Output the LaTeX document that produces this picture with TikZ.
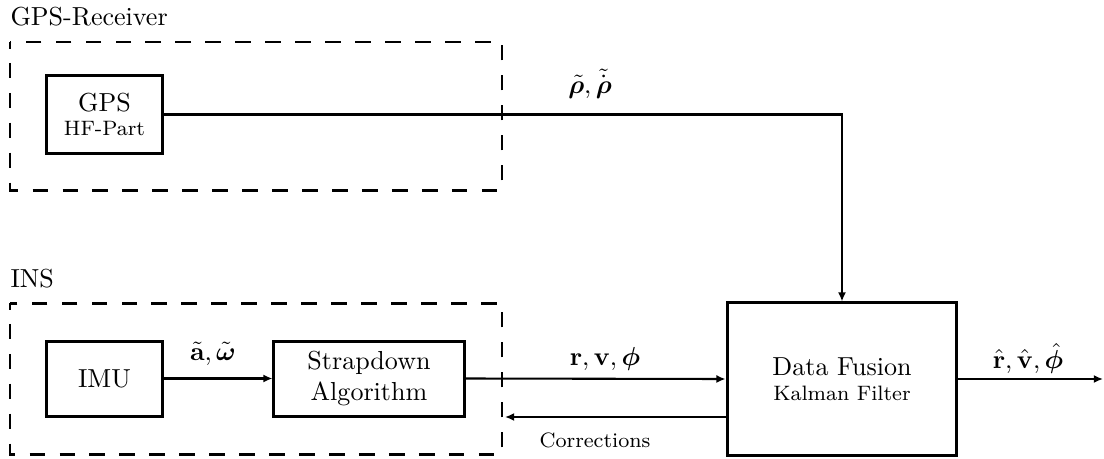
\documentclass[tikz,border=0pt]{standalone}
\usepackage{amsmath,amssymb,bm}
\usetikzlibrary{arrows.meta}
\begin{document}
\begin{tikzpicture}[x=0.384pt,y=-0.384pt,
  blockbox/.style={draw,line width=1.15pt,minimum width=#1,inner sep=0pt,align=center},
  groupbox/.style={draw,line width=1.15pt,dash pattern=on 6pt off 5.5pt,dash phase=3.5pt},
  conn/.style={line width=0.8pt},
  arr/.style={conn,-{Latex[length=3.5pt,width=3.1pt]}},
  grouplabel/.style={anchor=base west,inner sep=0pt},
  siglabel/.style={anchor=base,inner sep=0pt}]
\useasboundingbox (0,0) rectangle (1104,459);
% group frames
\draw[groupbox] (10,42) rectangle (502,190);
\draw[groupbox] (10,303) rectangle (502,454);
\node[grouplabel] (lgps) at (10,25) {GPS-Receiver};
\node[grouplabel] (lins) at (10,287) {INS};
% blocks
\node[blockbox=44.2pt,minimum height=29.6pt] (gps) at (104.5,114.5) {GPS\\[-2.6pt]{\footnotesize HF-Part}};
\node[blockbox=44.2pt,minimum height=28.8pt] (imu) at (104.5,378.5) {IMU};
\node[blockbox=73pt,minimum height=28.8pt] (strap) at (369,378.5) {Strapdown\\Algorithm};
\node[blockbox=88.3pt,minimum height=58.4pt] (fusion) at (842,379) {Data Fusion\\[-2.5pt]{\footnotesize Kalman Filter}};
% connectors
\draw[arr] (gps.east) -| (fusion.north);
\draw[arr] (imu.east) -- (strap.west);
\draw[arr] (strap.east) -- (fusion.west);
\coordinate (corr) at (505,417);
\draw[arr] (corr -| fusion.west) -- (corr);
\coordinate (out) at (1103,379);
\draw[arr] (fusion.east) -- (out);
% signal labels
\node[siglabel] (lrho) at (590,93) {$\tilde{\bm{\rho}},\tilde{\dot{\bm{\rho}}}$};
\node[siglabel] (law) at (213,360) {$\tilde{\mathbf{a}},\tilde{\bm{\omega}}$};
\node[siglabel] (lrv) at (605,365) {$\mathbf{r},\mathbf{v},\bm{\phi}$};
\node[siglabel] (lout) at (1028,368) {$\hat{\mathbf{r}},\hat{\mathbf{v}},\hat{\bm{\phi}}$};
\node[siglabel,font=\footnotesize] (lcorr) at (595,447) {Corrections};
\end{tikzpicture}
\end{document}
